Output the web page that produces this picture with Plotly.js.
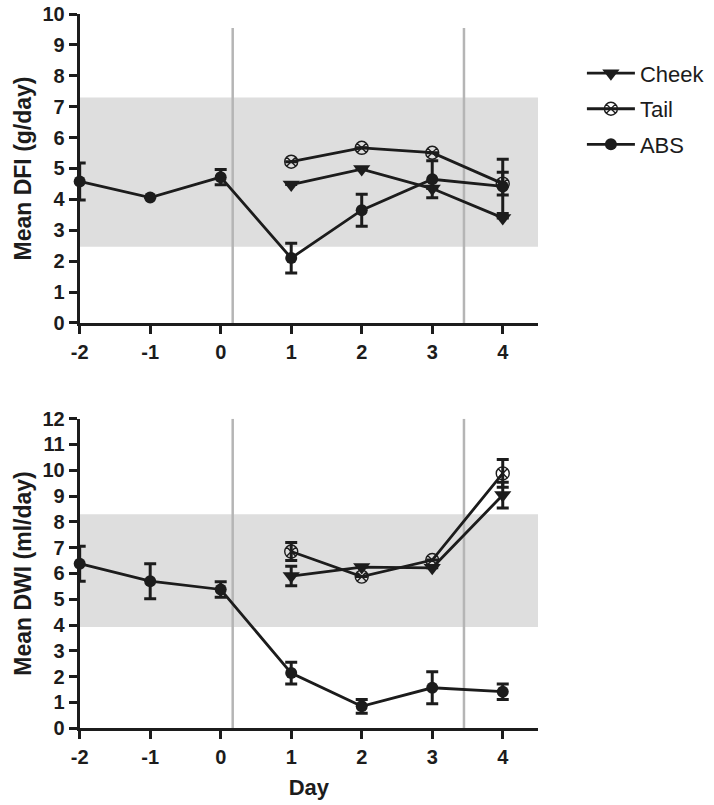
<!DOCTYPE html>
<html>
<head>
<meta charset="utf-8">
<script src="https://cdn.plot.ly/plotly-3.0.1.min.js"></script>
<style>html,body{margin:0;padding:0;background:#fff;}#chart{width:714px;height:805px;}</style>
</head>
<body>
<div id="chart"></div>
<script>
// ---- data ----
const days = [-2, -1, 0, 1, 2, 3, 4];
const postDays = [1, 2, 3, 4];
const xTickVals = [-2, -1, 0, 1, 2, 3, 4];
const xTickText = ['-2', '-1', '0', '1', '2', '3', '4'];

// Mean DFI (g/day)
const absDFI = [4.58, 4.06, 4.72, 2.10, 3.65, 4.65, 4.42];
const absDFIerr = [0.60, null, 0.25, 0.48, 0.52, 0.60, 0.88];
const cheekDFI = [4.48, 4.98, 4.35, 3.40];
const cheekDFIerr = [null, null, null, null];
const tailDFI = [5.22, 5.67, 5.51, 4.51];
const tailDFIerr = [null, null, null, 0.37];

// Mean DWI (ml/day)
const absDWI = [6.38, 5.70, 5.38, 2.14, 0.85, 1.57, 1.42];
const absDWIerr = [0.68, 0.68, 0.30, 0.42, 0.27, 0.62, 0.30];
const cheekDWI = [5.90, 6.25, 6.22, 9.04];
const cheekDWIerr = [0.38, null, null, 0.50];
const tailDWI = [6.85, 5.88, 6.52, 9.88];
const tailDWIerr = [0.35, null, null, 0.54];

// normal ranges (shaded) and treatment markers
const dfiBand = [2.47, 7.30];
const dwiBand = [3.93, 8.30];
const markerDays = [0.17, 3.45];

// ---- styling ----
const INK = '#1c1c1c';
const FONT = 'Liberation Sans, Arial, sans-serif';

function err(arr) {
  return {type: 'data', array: arr, visible: true, color: INK, thickness: 3, width: 6};
}
function cheekTrace(y, e, xa, ya, show) {
  return {x: postDays, y: y, xaxis: xa, yaxis: ya, name: 'Cheek', legendgroup: 'c', showlegend: show,
    mode: 'lines+markers', cliponaxis: false, line: {color: INK, width: 2.8},
    marker: {symbol: 'triangle-down', size: 15, color: INK}, error_y: err(e)};
}
function tailTrace(y, e, xa, ya, show) {
  return {x: postDays, y: y, xaxis: xa, yaxis: ya, name: 'Tail', legendgroup: 't', showlegend: show,
    mode: 'lines+markers', cliponaxis: false, line: {color: INK, width: 2.8},
    marker: {symbol: 'circle-x-open', size: 13, color: INK, line: {width: 1.4, color: INK}}, error_y: err(e)};
}
function absTrace(y, e, xa, ya, show) {
  return {x: days, y: y, xaxis: xa, yaxis: ya, name: 'ABS', legendgroup: 'a', showlegend: show,
    mode: 'lines+markers', cliponaxis: false, line: {color: INK, width: 2.8},
    marker: {symbol: 'circle', size: 12, color: INK}, error_y: err(e)};
}

const traces = [
  cheekTrace(cheekDFI, cheekDFIerr, 'x', 'y', true),
  tailTrace(tailDFI, tailDFIerr, 'x', 'y', true),
  absTrace(absDFI, absDFIerr, 'x', 'y', true),
  cheekTrace(cheekDWI, cheekDWIerr, 'x2', 'y2', false),
  tailTrace(tailDWI, tailDWIerr, 'x2', 'y2', false),
  absTrace(absDWI, absDWIerr, 'x2', 'y2', false)
];

function bandShape(xa, ya, band) {
  return {type: 'rect', xref: xa, yref: ya, x0: -2, x1: 4.5, y0: band[0], y1: band[1],
    fillcolor: '#dedede', line: {width: 0}, layer: 'below'};
}
function vline(xa, ya, xv, top) {
  return {type: 'line', xref: xa, yref: ya, x0: xv, x1: xv, y0: 0, y1: top,
    line: {color: '#b5b5b5', width: 2.5}, layer: 'below'};
}

const shapes = [
  bandShape('x', 'y', dfiBand),
  bandShape('x2', 'y2', dwiBand),
  vline('x', 'y', markerDays[0], 9.55),
  vline('x', 'y', markerDays[1], 9.55),
  vline('x2', 'y2', markerDays[0], 12),
  vline('x2', 'y2', markerDays[1], 12)
];

const tickFont = {family: FONT, size: 20, color: INK, weight: 700};
const titleFont = {family: FONT, size: 23, color: INK, weight: 700};

function xAxis(anchor, withTitle) {
  const a = {domain: [0.1116, 0.7535], range: [-2, 4.5], anchor: anchor,
    tickmode: 'array', tickvals: xTickVals, ticktext: xTickText,
    ticks: 'outside', ticklen: 8, tickwidth: 3, tickcolor: INK,
    showline: true, linewidth: 3, linecolor: INK, showgrid: false, zeroline: false,
    tickfont: tickFont, ticklabelstandoff: 1};
  if (withTitle) a.title = {text: 'Day', font: {family: FONT, size: 22, color: INK, weight: 700}, standoff: 13};
  return a;
}
function yAxis(anchor, domain, range, title) {
  return {domain: domain, range: range, anchor: anchor, dtick: 1, tick0: 0,
    ticks: 'outside', ticklen: 8, tickwidth: 3, tickcolor: INK,
    showline: true, linewidth: 3, linecolor: INK, showgrid: false, zeroline: false,
    tickfont: tickFont, ticklabelstandoff: 0,
    title: {text: title, font: titleFont, standoff: 5}};
}

const layout = {
  width: 714, height: 805,
  margin: {l: 0, r: 0, t: 0, b: 0},
  paper_bgcolor: '#ffffff', plot_bgcolor: 'rgba(0,0,0,0)',
  font: {family: FONT, color: INK},
  showlegend: true,
  legend: {x: 0.815, y: 0.935, xanchor: 'left', yanchor: 'top',
    font: {family: FONT, size: 22, color: INK}, itemwidth: 48, tracegroupgap: 4,
    bgcolor: 'rgba(0,0,0,0)'},
  xaxis: xAxis('y', false),
  yaxis: yAxis('x', [0.5988, 0.9826], [0, 10], 'Mean DFI (g/day)'),
  xaxis2: xAxis('y2', true),
  yaxis2: yAxis('x2', [0.0953, 0.4799], [0, 12], 'Mean DWI (ml/day)'),
  shapes: shapes
};

Plotly.newPlot('chart', traces, layout, {displayModeBar: false, staticPlot: true});
</script>
</body>
</html>
